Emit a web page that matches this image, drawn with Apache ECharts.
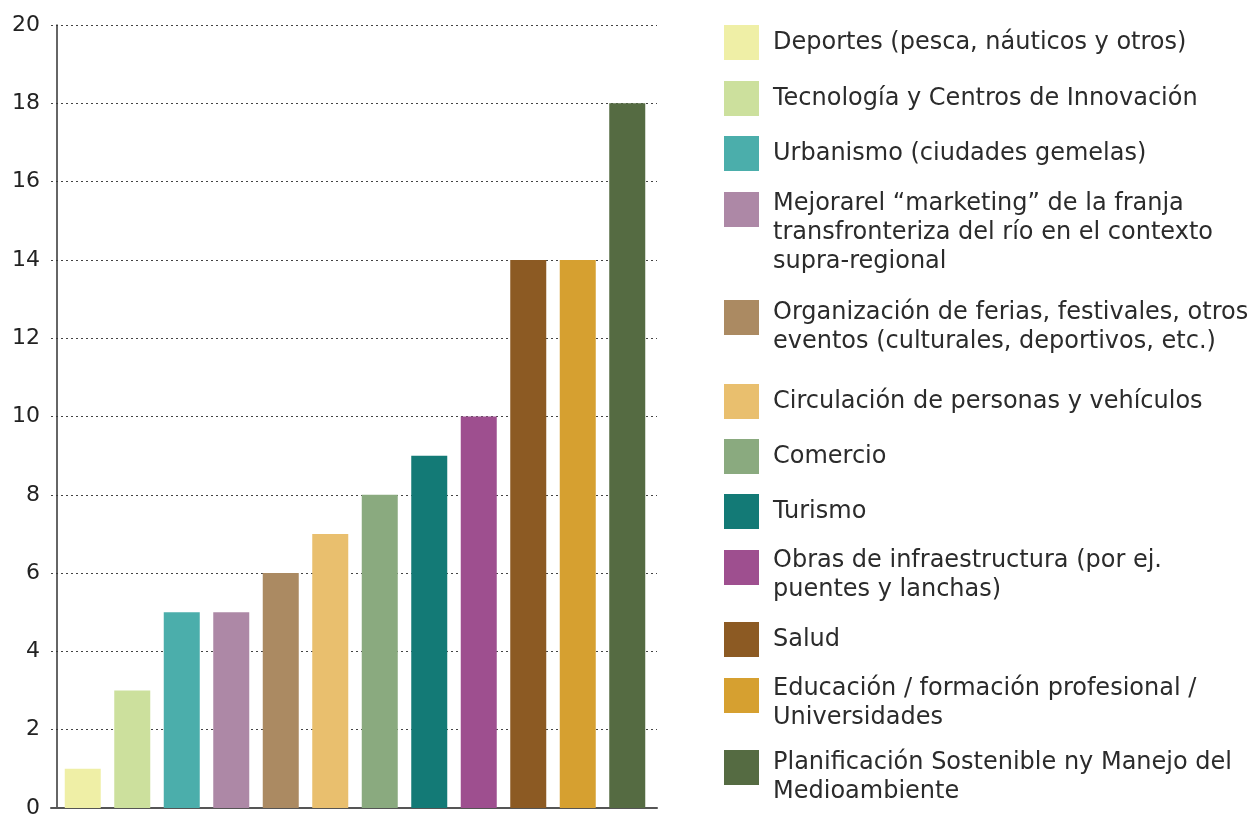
<!doctype html>
<html>
<head>
    <meta charset="utf-8">
    <title>Temas prioritarios</title>
    <script src="https://cdn.jsdelivr.net/npm/echarts@6/dist/echarts.min.js"></script>
    <style>
        html, body { margin: 0; padding: 0; background: #fff; }
        #main { width: 1255px; height: 815px; }
    </style>
</head>
<body>
    <div id="main"></div>
<script type="text/javascript">
    // categorias (tambien son los textos de la leyenda)
    var categories = [
        'Deportes (pesca, náuticos y otros)',
        'Tecnología y Centros de Innovación',
        'Urbanismo (ciudades gemelas)',
        'Mejorarel “marketing” de la franja\ntransfronteriza del río en el contexto\nsupra-regional',
        'Organización de ferias, festivales, otros\neventos (culturales, deportivos, etc.)',
        'Circulación de personas y vehículos',
        'Comercio',
        'Turismo',
        'Obras de infraestructura (por ej.\npuentes y lanchas)',
        'Salud',
        'Educación / formación profesional /\nUniversidades',
        'Planificación Sostenible ny Manejo del\nMedioambiente'
    ];
    // valores de cada barra
    var values = [1, 3, 5, 5, 6, 7, 8, 9, 10, 14, 14, 18];
    // eje Y
    var yMin = 0, yMax = 20, yStep = 2;

    var colors = ['#EFEFA6', '#CCE09D', '#4BAEAB', '#AD88A6', '#AB8A62', '#E9BF6E',
                  '#8AAA7F', '#137A76', '#9E4F8F', '#8C5A23', '#D6A030', '#556B42'];

    // posicion de cada cuadro de la leyenda (y) y desfase de la primera linea de texto
    var legendTop   = [25, 81, 136, 192, 300, 384, 439, 494, 550, 622, 678, 750];
    var legendShift = [0.5, 0, 0, -6, -4.5, 0, 0, 0, -6.5, 0, -6.5, -5];

    var FONT = 'DejaVu Sans';
    var LH = 29, FS = 24, BOX = 35;

    var myChart = echarts.init(document.getElementById('main'));

    // el icono es un cuadro de 35px arriba de una caja alta, asi el texto
    // de varias lineas empieza a la altura del cuadro
    var legends = categories.map(function (name, i) {
        var n = name.split('\n').length;
        var d = legendShift[i];
        var h = BOX + 2 * d + (n - 1) * LH;
        var off = Math.min(0, BOX / 2 + d - LH / 2);
        return {
            data: [name],
            orient: 'vertical',
            left: 724,
            top: legendTop[i] + off,
            padding: 0,
            itemWidth: BOX,
            itemHeight: h,
            icon: 'path://M0,0H35V35H0Z M0,' + h,
            selectedMode: false,
            textStyle: { fontFamily: FONT, fontSize: FS, lineHeight: LH, color: '#2b2b2b', padding: [0, 0, 0, 9] }
        };
    });

    var series = categories.map(function (name, i) {
        return {
            name: name,
            type: 'bar',
            stack: 'all',
            xAxisIndex: 0,
            yAxisIndex: 0,
            barWidth: 36,
            itemStyle: { color: colors[i] },
            data: values.map(function (v, j) { return j === i ? v : '-'; })
        };
    });

    var option = {
        animation: false,
        textStyle: { fontFamily: FONT },
        legend: legends,
        grid: [
            { left: 58, width: 594, top: 25, bottom: 7, outerBoundsMode: 'none' },   // barras
            { left: 51, width: 606, top: 25, bottom: 7, outerBoundsMode: 'none' }    // lineas punteadas
        ],
        xAxis: [
            {
                gridIndex: 0, type: 'category', data: categories,
                axisLine: { show: false }, axisTick: { show: false }, axisLabel: { show: false }
            },
            {
                gridIndex: 1, type: 'value', min: 0, max: 1,
                axisLine: { show: true, lineStyle: { color: '#555', width: 2 } },
                axisTick: { show: false }, axisLabel: { show: false }, splitLine: { show: false }
            }
        ],
        yAxis: [
            {
                gridIndex: 0, type: 'value', min: yMin, max: yMax, interval: yStep, offset: 1,
                axisLine: { show: true, lineStyle: { color: '#333', width: 1.5 } },
                axisTick: { show: false },
                axisLabel: { fontFamily: FONT, fontSize: 22, color: '#222', margin: 17 },
                splitLine: { show: false }
            },
            {
                gridIndex: 1, type: 'value', min: yMin, max: yMax, interval: yStep,
                axisLine: { show: false }, axisTick: { show: false }, axisLabel: { show: false },
                splitLine: { show: true, lineStyle: { type: [2, 3], color: '#444', width: 1.2 } }
            }
        ],
        series: series
    };

    myChart.setOption(option);
</script>
</body>
</html>
